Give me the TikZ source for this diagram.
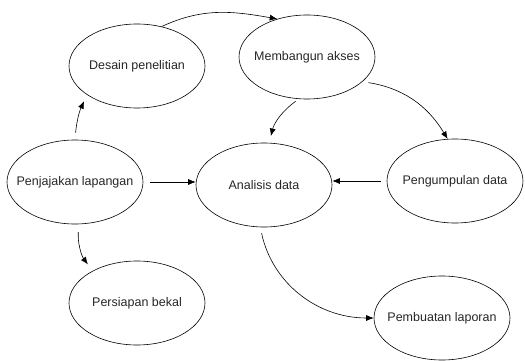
\documentclass[tikz,border=0pt]{standalone}
\usepackage{fontspec}
\setmainfont{Liberation Sans}
\usetikzlibrary{arrows.meta,shapes.geometric,positioning}

\begin{document}
\begin{tikzpicture}[->,>={Latex[length=7.5pt,width=6pt]},x=1pt,y=1pt,line width=0.6pt]
\tikzstyle{every node}=[font=\fontsize{12.5}{15}\selectfont,text=black!85]
\tikzstyle{tahap}=[ellipse,draw,minimum width=136pt,minimum height=84pt,inner ysep=0pt,inner xsep=-25pt]
\useasboundingbox (0,0) rectangle (525,-361);
\node[tahap] (desain) at (137,-66) {Desain penelitian};
\node[tahap] (akses) at (307,-57) {Membangun akses};
\node[tahap] (jajak) at (75,-182) {Penjajakan lapangan};
\node[tahap] (analisis) at (264,-185) {Analisis data};
\node[tahap] (kumpul) at (455,-181) {Pengumpulan data};
\node[tahap] (bekal) at (137,-303) {Persiapan bekal};
\node[tahap] (laporan) at (442,-318) {Pembuatan laporan};
% panah antar tahap
\draw[shorten <=7pt,shorten >=7pt] (jajak.north) to[bend left=10] (desain.210);
\draw[shorten <=8pt,shorten >=8pt] (jajak.-85) to[bend right=20] (bekal.144);
\draw[shorten <=7pt] (jajak.east) -- (jajak.east -| analisis.west);
\draw (desain.58) to[out=25,in=170] (akses.128);
\draw[shorten <=4pt,shorten >=7pt] (akses.259) to[bend right=20] (analisis.83);
\draw[shorten <=6pt] (akses.336) to[bend left=25] (kumpul.100);
\draw[shorten <=6pt] (kumpul.west) -- (kumpul.west -| analisis.east);
\draw[shorten <=6pt] (analisis.265) to[out=-78,in=180] (laporan.west);
\end{tikzpicture}
\end{document}
